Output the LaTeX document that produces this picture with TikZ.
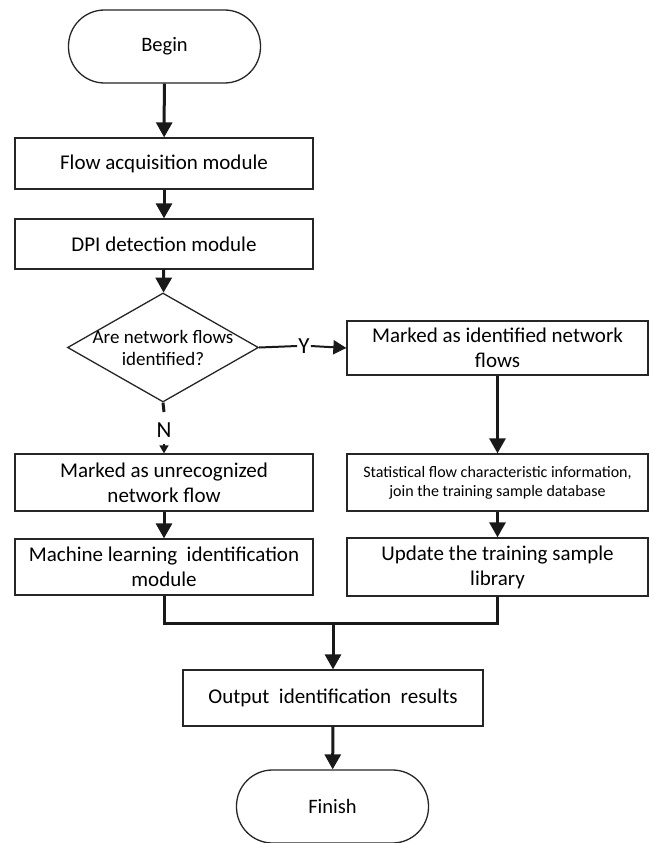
\documentclass[tikz,border=0pt]{standalone}
\usepackage{fontspec}
\setmainfont{Carlito}
\usetikzlibrary{shapes.geometric,arrows.meta}
\begin{document}
\begin{tikzpicture}[x=1pt,y=-1pt,
  box/.style={draw=black!85, line width=1.3pt, rectangle, minimum width=298pt, inner sep=0pt, align=center, font=\fontsize{21}{25}\selectfont},
  term/.style={draw=black!85, line width=1.3pt, rectangle, rounded corners=36pt, minimum width=192pt, minimum height=73pt, inner sep=0pt, font=\fontsize{20.5}{24}\selectfont},
  arr/.style={line width=3pt, draw=black!90, -{Triangle[width=16pt,length=15pt]}},
  thickline/.style={line width=3pt, draw=black!90},
  yline/.style={line width=2pt, draw=black!90},
  lbl/.style={inner sep=1pt, font=\fontsize{23}{26}\selectfont}
]
\useasboundingbox (0,0) rectangle (650,843);
\fill[white] (0,0) rectangle (650,843);

\node[term] (begin) at (164.5,46.5) {Begin};
\node[box, minimum height=51pt] (flow) at (164,163.5) {Flow acquisition module};
\node[box, minimum height=50pt] (dpi) at (164,244) {DPI detection module};
\node[diamond, draw=black!85, line width=1.3pt, minimum width=191pt, minimum height=109pt, inner sep=0pt] (dec) at (163,347.5) {};
\node[align=center, inner sep=0pt, font=\fontsize{19}{22}\selectfont] (dectext) at (dec.center) {Are network flows\\identified?};

\node[box, minimum width=301pt, minimum height=54pt] (ident) at (497.5,348) {Marked as identified network\\flows};
\node[box, minimum width=301pt, minimum height=57pt, font=\fontsize{16}{19}\selectfont] (stat) at (497.5,482.5) {Statistical flow characteristic information,\\join the training sample database};
\node[box, minimum width=301pt, minimum height=58pt] (update) at (497.5,567) {Update the training sample\\library};

\node[box, minimum height=57pt] (unrec) at (164,482.5) {Marked as unrecognized\\network flow};
\node[box, minimum height=56pt] (ml) at (164,567) {Machine learning\ \ identification\\module};

\node[box, minimum width=300pt, minimum height=56pt] (out) at (333,698) {Output\ \ identification\ \ results};
\node[term] (finish) at (332.5,806.5) {Finish};

% connectors
\draw[arr] (begin) -- (flow);
\draw[arr] (flow) -- (dpi);
\draw[arr] (dpi) -- (dec);

\node[lbl] (ylab) at (304,346) {Y};
\draw[yline] (dec.east) -- (ylab.west);
\draw[yline, -{Triangle[width=14pt,length=13pt]}] (ylab.east) -- (ident.west);

\node[lbl] (nlab) at (164,430) {N};
\coordinate (n1) at (164,412);
\coordinate (n2) at (164,444);
\draw[thickline] (dec.south) -- (n1);
\draw[line width=1.5pt, draw=black!90, -{Triangle[width=9pt,length=8pt]}] (n2) -- (unrec.north);

\draw[arr] (ident) -- (stat);
\draw[arr] (stat) -- (update);
\draw[arr] (unrec) -- (ml);

\coordinate (m) at (333,623);
\draw[thickline] (ml.south) |- (m) -| (update.south);
\draw[arr] (m) -- (out.north);
\draw[arr] (out) -- (finish);
\end{tikzpicture}
\end{document}
